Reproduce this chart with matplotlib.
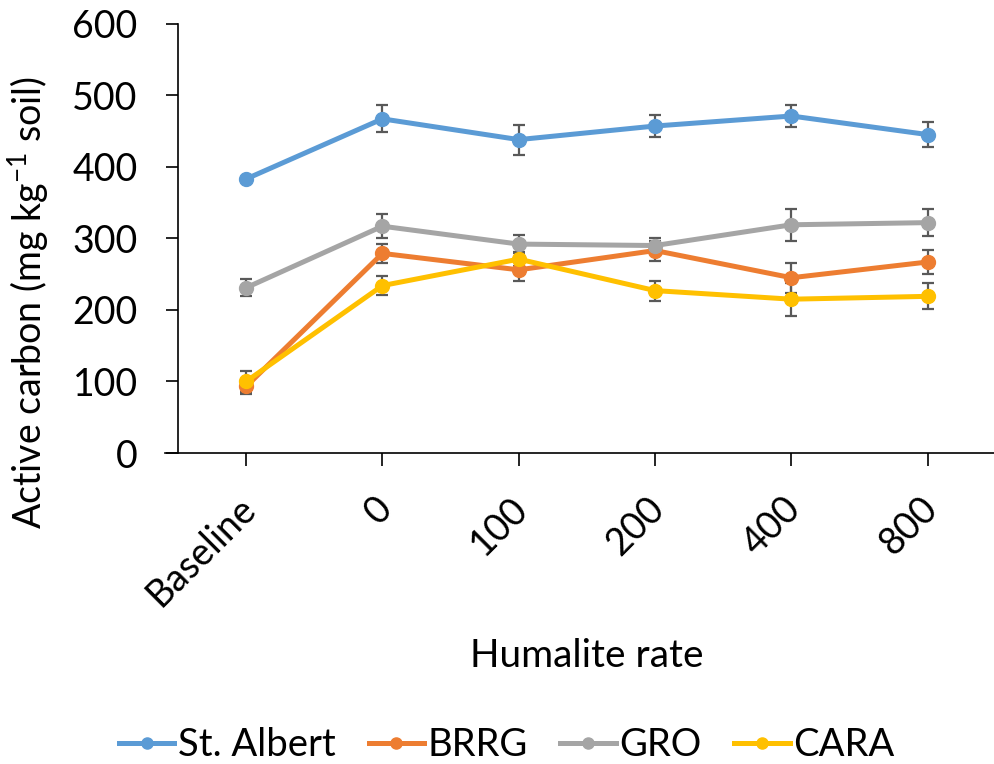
import matplotlib.pyplot as plt
from matplotlib.lines import Line2D
from matplotlib.transforms import ScaledTranslation
import numpy as np

plt.rcParams['font.family'] = ['Lato', 'DejaVu Sans']
plt.rcParams['mathtext.fontset'] = 'custom'
plt.rcParams['mathtext.rm'] = 'Lato'

rates = ['Baseline', '0', '100', '200', '400', '800']
sites = ['St. Albert', 'BRRG', 'GRO', 'CARA']
colors = ['#5B9BD5', '#ED7D31', '#A5A5A5', '#FFC000']

st_albert = [383, 467, 438, 457, 471, 445]
st_albert_err = [0, 19, 21, 15, 15, 18]
brrg = [93, 279, 256, 283, 245, 267]
brrg_err = [10, 13, 16, 14, 21, 17]
gro = [231, 317, 292, 290, 319, 322]
gro_err = [12, 17, 13, 11, 22, 19]
cara = [100, 234, 271, 227, 215, 219]
cara_err = [15, 13, 10, 14, 23, 18]

values = [st_albert, brrg, gro, cara]
errors = [st_albert_err, brrg_err, gro_err, cara_err]

fig = plt.figure(figsize=(9.94, 7.64), dpi=100)
ax = fig.add_axes([0.179, 0.407, 0.823, 0.562])

x = np.arange(len(rates))
handles = []
for name, vals, err, c in zip(sites, values, errors, colors):
  ax.errorbar(x, vals, yerr=err, color=c, linewidth=3.6, marker='o', markersize=10,
              ecolor='#595959', elinewidth=1.6, capsize=4.5, capthick=1.6)
  handles.append(Line2D([], [], color=c, linewidth=3.6, marker='o', markersize=8, label=name))

ax.set_xlim(-0.5, 5.5)
ax.set_ylim(0, 600)
ax.set_yticks(range(0, 601, 100))
ax.set_xticks(x)
ax.set_xticklabels([])
# slanted category labels, placed a little left of each tick
shift = ax.get_xaxis_transform() + ScaledTranslation(-0.09, -0.37, fig.dpi_scale_trans)
for xi, lab in zip(x, rates):
  ax.text(xi, 0, lab, transform=shift, rotation=45, rotation_mode='anchor',
          ha='right', va='top', fontsize=27)

for s in ['top', 'right']:
  ax.spines[s].set_visible(False)
for s in ['left', 'bottom']:
  ax.spines[s].set_linewidth(1.2)
# bottom axis line runs past the y axis by one tick length
ax.spines['bottom'].set_bounds(-0.596, 5.5)
ax.tick_params(axis='both', labelsize=27, width=1.2, length=9, color='black')
ax.tick_params(axis='y', pad=20)

ax.set_ylabel('Active carbon (mg kg$^{\\mathrm{-1}}$ soil)', fontsize=27)
ax.yaxis.set_label_coords(-0.154, 0.35)
ax.set_xlabel('Humalite rate', fontsize=28)
ax.xaxis.set_label_coords(0.5, -0.431)

ax.legend(handles=handles, loc='center', bbox_to_anchor=(0.51, 0.025), bbox_transform=fig.transFigure,
          ncol=4, frameon=False, fontsize=27.5, handlelength=1.45, handletextpad=0.1,
          columnspacing=0.85)

fig.savefig('out.png', dpi=100)
